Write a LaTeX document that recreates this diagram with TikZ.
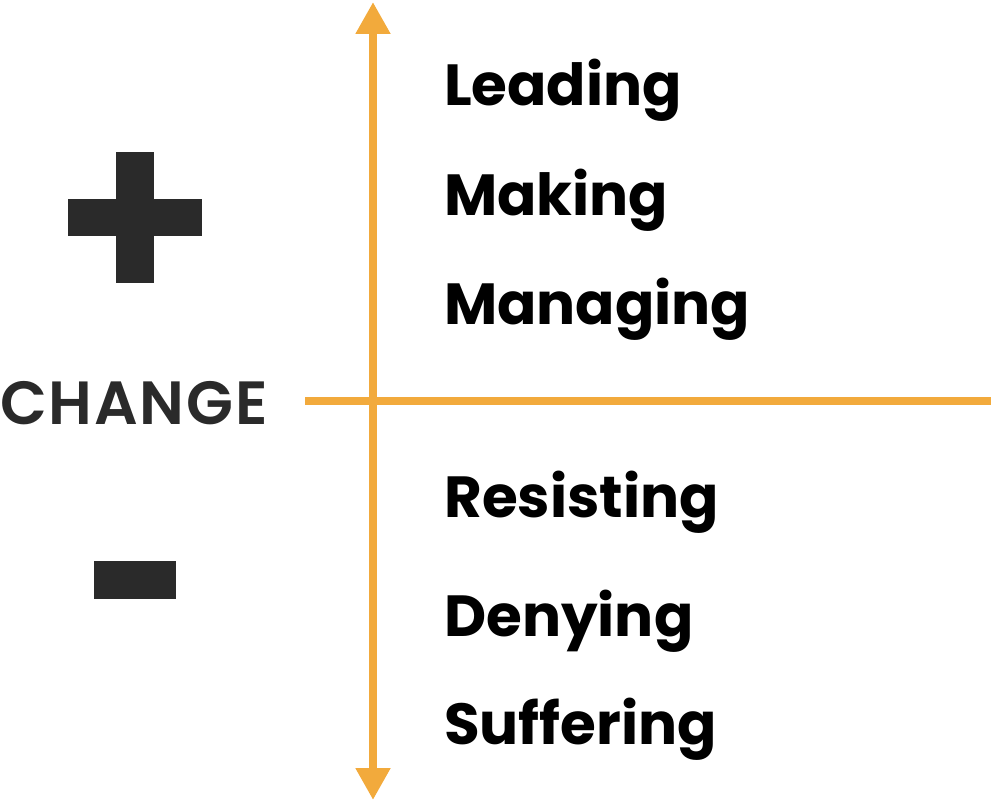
\documentclass[tikz,border=0pt]{standalone}
\usepackage{fontspec}
\setmainfont{Poppins}[BoldFont=* Bold]
\newfontfamily\medfont{Poppins}[UprightFont=* SemiBold, LetterSpace=3]
\usetikzlibrary{arrows.meta}
\definecolor{axisorange}{HTML}{F2AA3C}
\definecolor{signgray}{HTML}{2A2A2A}
\tikzset{
  axisline/.style={draw=axisorange, line width=8.5pt},
  axisarrows/.style={axisline, {Triangle[width=33pt,length=32pt]}-{Triangle[width=33pt,length=32pt]}},
  bar/.style={rectangle, fill=signgray, inner sep=0pt, outer sep=0pt},
  word/.style={anchor=base west, inner sep=0pt, font=\bfseries\fontsize{58}{58}\selectfont, text=black},
  changelabel/.style={anchor=base west, inner sep=0pt, font=\medfont\fontsize{61}{61}\selectfont, text=signgray}
}
\begin{document}
\begin{tikzpicture}[x=1pt, y=-1pt]
\useasboundingbox (0,0) rectangle (991,802);
% axes
\coordinate (vtop) at (373,2);
\coordinate (vbot) at (373,800);
\coordinate (hleft) at (305,401);
\coordinate (hright) at (991,401);
\draw[axisarrows] (vtop) -- (vbot);
\draw[axisline] (hleft) -- (hright);
% plus sign
\node[bar, minimum width=38pt, minimum height=131pt] (plusv) at (135,217.5) {};
\node[bar, minimum width=134pt, minimum height=37pt] (plush) at (135,217.5) {};
% minus sign
\node[bar, minimum width=82pt, minimum height=38pt] (minus) at (135,580) {};
% change label
\node[changelabel] (change) at (0,424) {CHANGE};
% words
\node[word] (leading) at (444,106) {Leading};
\node[word] (making) at (444,216) {Making};
\node[word] (managing) at (444,325) {Managing};
\node[word] (resisting) at (444,517) {Resisting};
\node[word] (denying) at (444,636) {Denying};
\node[word] (suffering) at (444,744) {Suffering};
\end{tikzpicture}
\end{document}
